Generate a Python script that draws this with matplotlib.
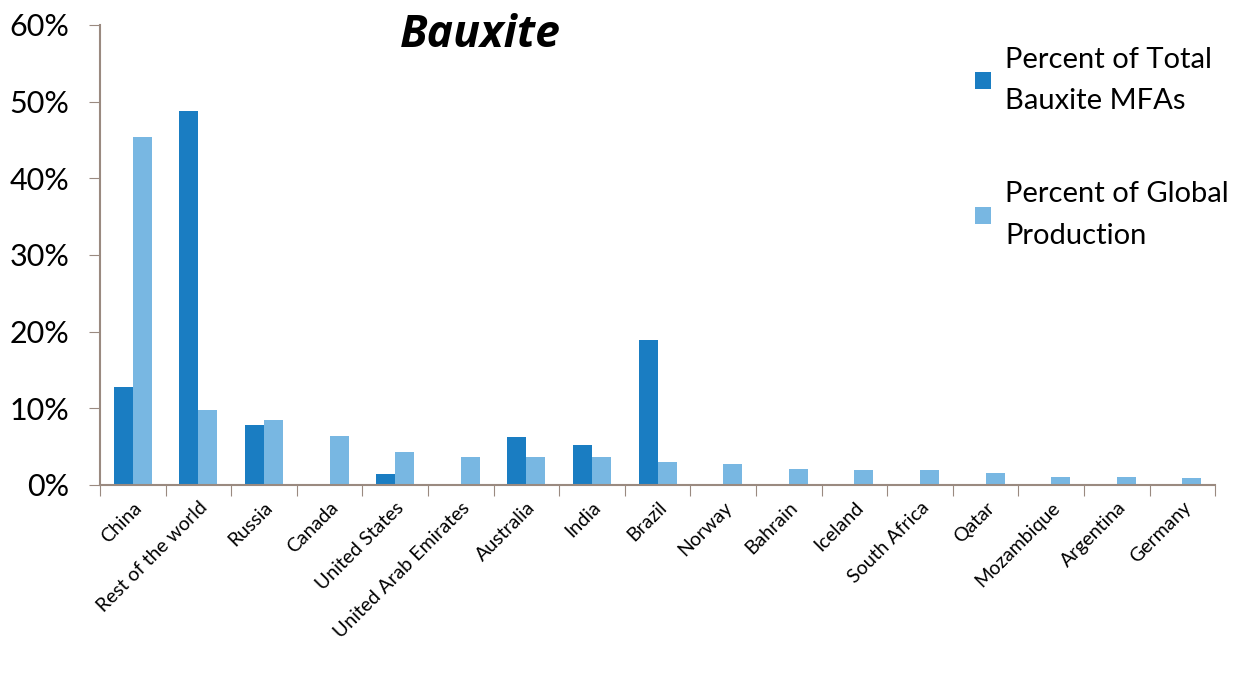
import numpy as np
from matplotlib import pyplot as plt

# Bauxite: share of MFAs vs share of global production, by country
countries = ["China", "Rest of the world", "Russia", "Canada", "United States",
             "United Arab Emirates", "Australia", "India", "Brazil", "Norway",
             "Bahrain", "Iceland", "South Africa", "Qatar", "Mozambique",
             "Argentina", "Germany"]
pct_mfas = [12.8, 48.8, 7.8, 0.0, 1.4, 0.0, 6.3, 5.2, 18.9, 0.0,
            0.0, 0.0, 0.0, 0.0, 0.0, 0.0, 0.0]
pct_production = [45.4, 9.8, 8.5, 6.4, 4.3, 3.6, 3.6, 3.6, 3.0, 2.7,
                  2.1, 2.0, 2.0, 1.5, 1.0, 1.0, 0.9]

dark = "#1a7dc2"
light = "#78b7e2"
axis_col = "#9a8a80"

plt.rcParams['font.family'] = ['Lato', 'DejaVu Sans']

fig = plt.figure(figsize=(12.53, 6.75), dpi=100)
ax = fig.add_axes([0.0798, 0.2815, 0.89, 0.6815])

x = np.arange(len(countries))
w = 0.29
ax.bar(x - w/2, pct_mfas, w, color=dark, label="Percent of Total\nBauxite MFAs")
ax.bar(x + w/2, pct_production, w, color=light, label="Percent of Global\nProduction")

ax.set_xlim(-0.5, len(countries) - 0.5)
ax.set_ylim(0, 60)
ax.set_yticks(range(0, 61, 10))
ax.set_yticklabels([f"{v}%" for v in range(0, 61, 10)], fontsize=22)

# category ticks sit between categories, labels in the middle
ax.set_xticks(np.arange(-0.5, len(countries)), minor=False)
ax.set_xticklabels([])
ax.set_xticks(x, minor=True)
ax.set_xticklabels(countries, minor=True, rotation=45, ha="right",
                   rotation_mode="anchor", fontsize=14)
ax.tick_params(axis="x", which="minor", length=0, pad=10)
ax.tick_params(axis="x", which="major", length=8, color=axis_col, direction="out")
ax.tick_params(axis="y", length=8, color=axis_col, direction="out", pad=14)

for s in ["top", "right"]:
    ax.spines[s].set_visible(False)
ax.spines["left"].set_color(axis_col)
ax.spines["bottom"].set_color(axis_col)
ax.spines["left"].set_linewidth(1.5)
ax.spines["bottom"].set_linewidth(1.5)

fig.text(0.383, 0.947, "Bauxite", fontsize=32, fontweight="bold",
         fontstyle="italic", family=["Open Sans", "DejaVu Sans"], ha="center", va="center")

leg = fig.legend(loc="upper left", bbox_to_anchor=(0.757, 0.97), frameon=False,
                 fontsize=21, handlelength=0.55, handleheight=0.55,
                 handletextpad=0.5, labelspacing=2.3)
for t in leg.get_texts():
    t.set_linespacing(1.75)

fig.savefig("out.png", dpi=100)
